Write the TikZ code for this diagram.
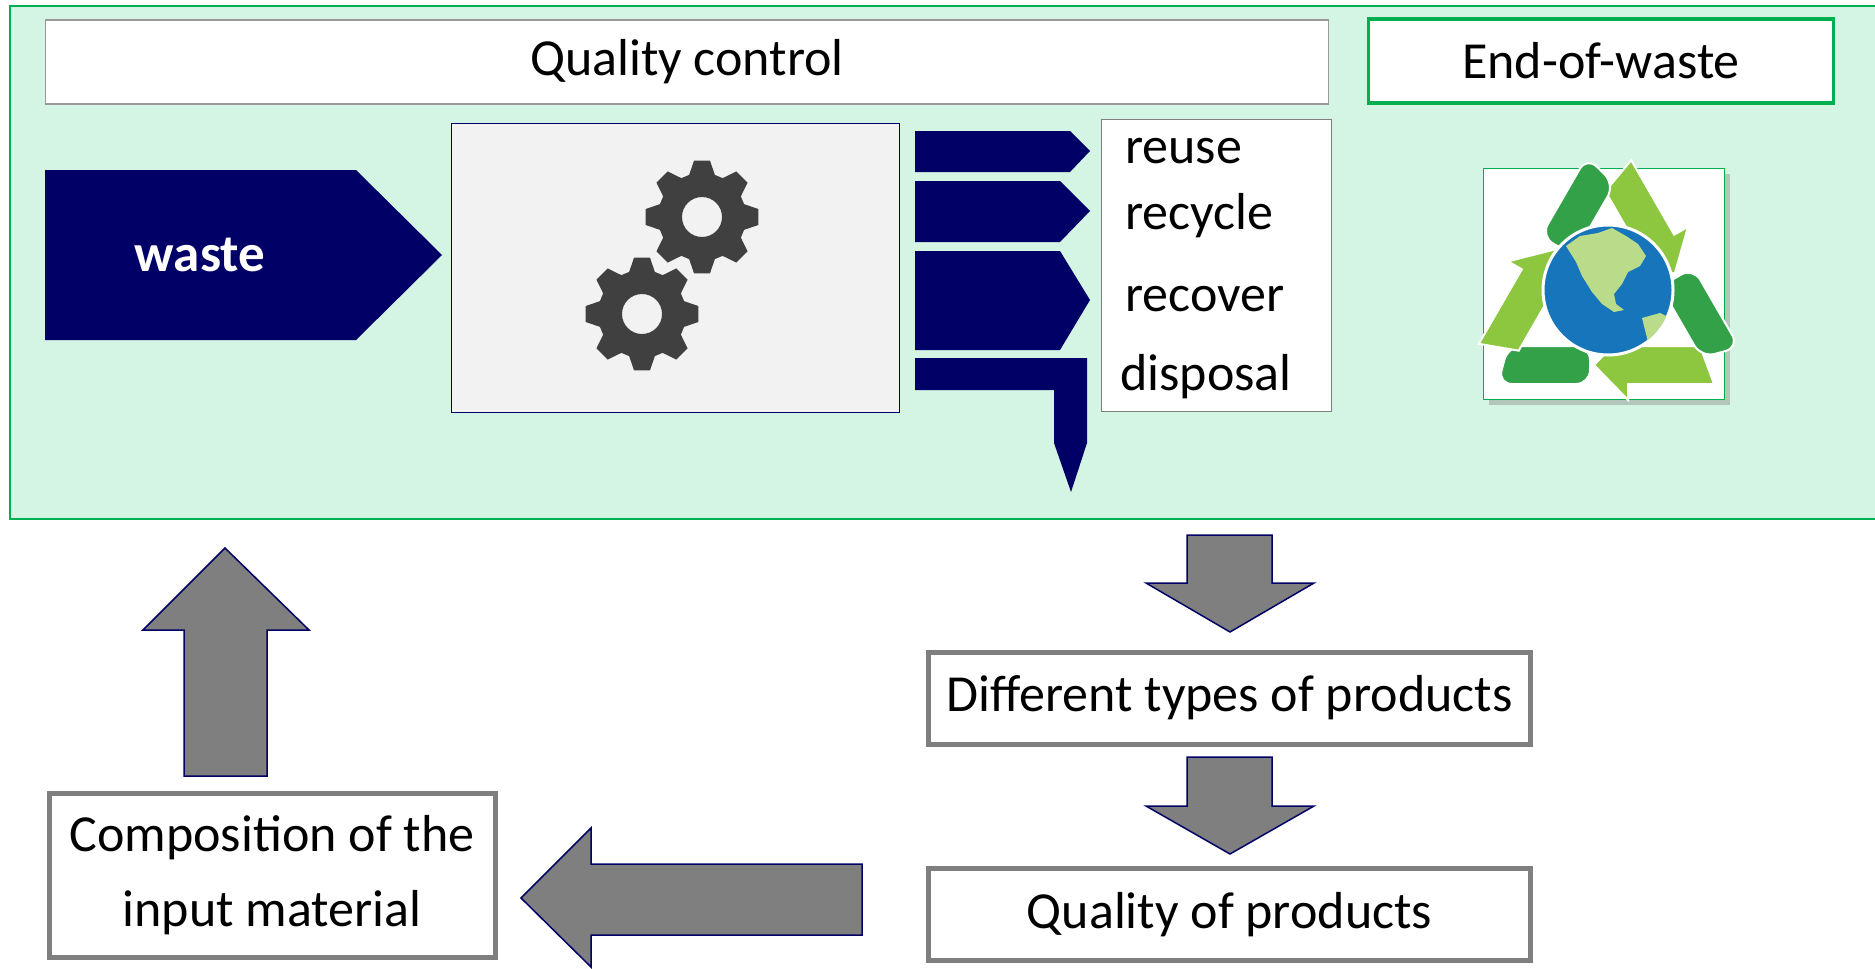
\documentclass[tikz,border=0pt]{standalone}
\usepackage{fontspec}
\setmainfont{Carlito}
\usetikzlibrary{shadows}

\definecolor{panelgreen}{RGB}{213,245,228}
\definecolor{panelline}{RGB}{0,176,80}
\definecolor{navy}{RGB}{0,0,102}
\definecolor{boxgray}{RGB}{127,127,127}
\definecolor{gearbg}{RGB}{242,242,242}
\definecolor{gearfill}{RGB}{64,64,64}
\definecolor{leafdark}{RGB}{51,161,72}
\definecolor{leaflight}{RGB}{141,198,63}
\definecolor{oceanblue}{RGB}{23,117,187}
\definecolor{landgreen}{RGB}{186,220,138}

\tikzset{
	bigfont/.style={font=\fontsize{52}{75}\selectfont},
	titlebox/.style={draw=boxgray!80, line width=1.5pt, fill=white, bigfont},
	prodbox/.style={draw=boxgray, line width=5pt, fill=white, bigfont, align=center},
	navyarrow/.style={fill=navy},
	grayarrow/.style={fill=boxgray, draw=navy, line width=1.5pt},
	routelabel/.style={bigfont, anchor=base west, inner sep=0pt}
}

\begin{document}
\begin{tikzpicture}[x=1pt, y=-1pt]
	\useasboundingbox (0,0) rectangle (1875,969);

	% green panel
	\draw[panelline, fill=panelgreen, line width=1.5pt] (10,6) rectangle (1895,519);

	\node[titlebox, minimum width=1283pt, minimum height=84pt] (qc) at (687,62) {Quality control};
	\node[titlebox, draw=panelline, line width=3.5pt, minimum width=465pt, minimum height=84pt] (eow) at (1601,61) {End-of-waste};

	% input arrow
	\fill[navyarrow] (45,170) -- (356,170) -- (442,255) -- (356,340) -- (45,340) -- cycle;
	\node[text=white, font=\fontsize{53}{62}\bfseries] (waste) at (200,255) {waste};

	% machine with gears
	\node[draw=navy, line width=1.5pt, fill=gearbg, minimum width=448pt, minimum height=289pt] (machine) at (675.5,268) {};
	\foreach \gx/\gy in {702/217, 642/314}
		\fill[gearfill, even odd rule, shift={(\gx,\gy)}] (-17:44)
			\foreach \a in {0,45,...,315}{ -- (\a-17:44) -- (\a-8:57) -- (\a+8:57) -- (\a+17:44)} -- cycle
			(0,0) circle[radius=20];

	% output routes
	\fill[navyarrow] (915,131) -- (1070,131) -- (1090,151) -- (1070,172) -- (915,172) -- cycle;
	\fill[navyarrow] (915,181) -- (1060,181) -- (1090,211) -- (1060,242) -- (915,242) -- cycle;
	\fill[navyarrow] (915,251) -- (1060,251) -- (1090,300) -- (1060,350) -- (915,350) -- cycle;
	\fill[navyarrow] (915,358) -- (1087,358) -- (1087,443) -- (1071,492) -- (1054,443) -- (1054,390) -- (915,390) -- cycle;

	\node[draw=boxgray, line width=1.5pt, fill=white, minimum width=230pt, minimum height=292pt] (routes) at (1216.5,265.5) {};
	\node[routelabel] (reuse) at (1125,163) {reuse};
	\node[routelabel] (recycle) at (1125,229) {recycle};
	\node[routelabel] (recover) at (1125,311) {recover};
	\node[routelabel] (disposal) at (1120,390) {disposal};

	% recycling logo
	\node[draw=panelline, line width=1.5pt, fill=white, minimum width=241pt, minimum height=231pt,
		drop shadow={opacity=0.4, shadow xshift=5pt, shadow yshift=-5pt}] (logo) at (1604,284) {};
	\foreach \r in {0,120,240}{
		\begin{scope}[shift={(1608,296)}, rotate=\r]
			\fill[leafdark, draw=white, line width=2pt, rounded corners=14pt] (-100,50) -- (-18,50) -- (-18,88) -- (-110,88) -- cycle;
			\fill[leaflight, draw=white, line width=2pt] (92,50) -- (20,50) -- (20,34) -- (-14,69) -- (20,104) -- (20,88) -- (106,88) -- cycle;
		\end{scope}
	}
	\coordinate (globe) at (1608,290);
	\fill[oceanblue, draw=white, line width=3pt] (globe) circle[radius=65];
	\begin{scope}
		\clip (globe) circle[radius=64];
		% north america
		\fill[landgreen] (1566,246) -- (1580,236) -- (1598,233) -- (1612,228) -- (1626,236) -- (1638,244) -- (1646,256)
			-- (1640,266) -- (1628,272) -- (1622,284) -- (1614,294) -- (1616,304) -- (1624,310) -- (1614,312)
			-- (1602,304) -- (1592,292) -- (1582,276) -- (1576,262) -- cycle;
		% south america
		\fill[landgreen] (1642,318) -- (1660,313) -- (1678,322) -- (1674,338) -- (1662,354) -- (1648,342) -- cycle;
	\end{scope}

	% feedback loop
	\node[prodbox, minimum width=602pt, minimum height=92pt] (types) at (1229.5,698) {Different types of products};
	\node[prodbox, minimum width=602pt, minimum height=92pt] (quality) at (1229.5,914.5) {Quality of products};
	\node[prodbox, minimum width=446pt, minimum height=164pt] (compo) at (272,875) {Composition of the\\input material};

	\draw[grayarrow] (1187,535) -- (1272,535) -- (1272,583) -- (1314,583) -- (1230,632) -- (1146,583) -- (1187,583) -- cycle;
	\draw[grayarrow] (1187,757) -- (1272,757) -- (1272,806) -- (1314,806) -- (1230,854) -- (1146,806) -- (1187,806) -- cycle;
	\draw[grayarrow] (862,864) -- (862,935) -- (591,935) -- (591,967) -- (521,898) -- (591,828) -- (591,864) -- cycle;
	\draw[grayarrow] (184,776) -- (184,630) -- (143,630) -- (225,548) -- (309,630) -- (267,630) -- (267,776) -- cycle;
\end{tikzpicture}
\end{document}
